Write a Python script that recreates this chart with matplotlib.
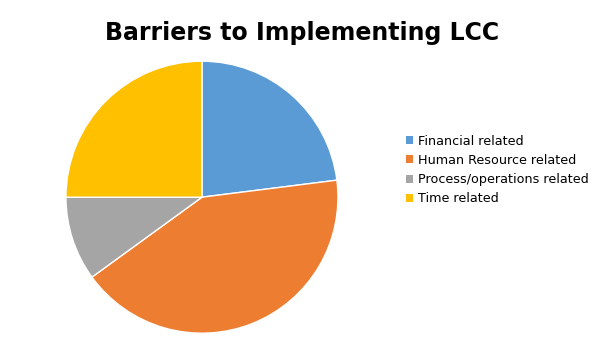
import matplotlib
matplotlib.use("Agg")
import matplotlib.pyplot as plt
from matplotlib.patches import Patch

categories = ["Financial related", "Human Resource related", "Process/operations related", "Time related"]
values = [23, 42, 10, 25]
colors = ["#5B9BD5", "#ED7D31", "#A5A5A5", "#FFC000"]

fig = plt.figure(figsize=(6.05, 3.4), dpi=100)
fig.patch.set_facecolor("white")
ax = fig.add_axes([0.109, 0.02, 0.4496, 0.8])
ax.pie(values, colors=colors, startangle=90, counterclock=False,
       wedgeprops=dict(edgecolor="white", linewidth=1))
ax.set_xlim(-1, 1)
ax.set_ylim(-1, 1)
ax.set_aspect("equal")

fig.text(0.5, 0.903, "Barriers to Implementing LCC", ha="center", va="center",
         fontsize=17, fontweight="bold", color="black")

handles = [Patch(facecolor=c, edgecolor="none") for c in colors]
fig.legend(handles, categories, loc="center left", bbox_to_anchor=(0.66, 0.50),
           frameon=False, fontsize=9.2, handlelength=0.6, handleheight=0.6,
           handletextpad=0.4, labelspacing=0.48, borderpad=0)

fig.savefig("out.png", dpi=100)
